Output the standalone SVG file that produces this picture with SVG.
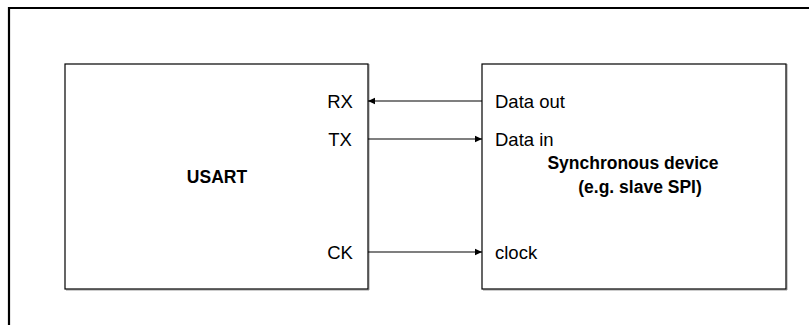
<svg xmlns="http://www.w3.org/2000/svg" width="809" height="325" viewBox="0 0 809 325">
<style>
.box{fill:#fff;stroke:#000;stroke-width:1.2}
.shadow{fill:none;stroke:#9a9a9a;stroke-width:1}
.lbl{font-family:"Liberation Sans",Arial,sans-serif;font-size:18.5px;fill:#000}
.bold{font-family:"Liberation Sans",Arial,sans-serif;font-size:17.5px;font-weight:bold;fill:#000}
.wire{stroke:#000;stroke-width:1.2;fill:none}
</style>
<defs>
<marker id="arr" markerWidth="8" markerHeight="8" refX="7" refY="4" orient="auto" markerUnits="userSpaceOnUse">
<path d="M0,0.8 L7,4 L0,7.2 Z" fill="#000"/>
</marker>
</defs>
<rect width="809" height="325" fill="#fff"/>
<path d="M9,325 V8 H809" fill="none" stroke="#000" stroke-width="2.2"/>
<g id="usart">
<path class="shadow" d="M66,290 H369 V64"/>
<rect class="box" x="65" y="64" width="303" height="225"/>
<text class="bold" x="217" y="183" text-anchor="middle">USART</text>
<text class="lbl" x="340" y="108" text-anchor="middle">RX</text>
<text class="lbl" x="340" y="146" text-anchor="middle">TX</text>
<text class="lbl" x="340" y="259" text-anchor="middle">CK</text>
</g>
<g id="device">
<path class="shadow" d="M483,290 H787 V64"/>
<rect class="box" x="482" y="64" width="304" height="225"/>
<text class="lbl" x="495" y="108">Data out</text>
<text class="lbl" x="495" y="146">Data in</text>
<text class="lbl" x="495" y="259">clock</text>
<text class="bold" x="633" y="169" text-anchor="middle">Synchronous device</text>
<text class="bold" x="640" y="193" text-anchor="middle">(e.g. slave SPI)</text>
</g>
<g id="connectors">
<line class="wire" x1="482" y1="101" x2="368" y2="101" marker-end="url(#arr)"/>
<line class="wire" x1="368" y1="139" x2="482" y2="139" marker-end="url(#arr)"/>
<line class="wire" x1="368" y1="252" x2="482" y2="252" marker-end="url(#arr)"/>
</g>
</svg>
